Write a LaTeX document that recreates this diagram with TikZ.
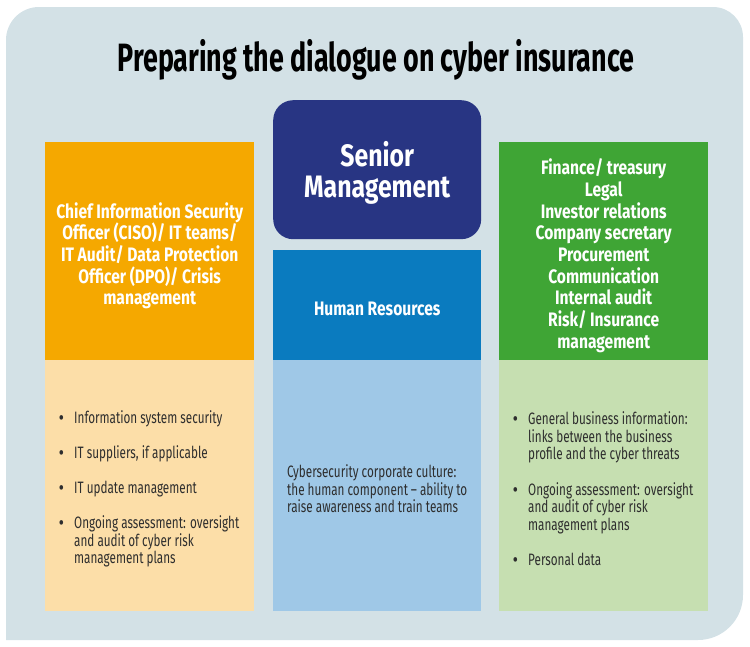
\documentclass[tikz,border=0pt]{standalone}
\usepackage{fontspec}
\setmainfont{Fira Sans}[FakeStretch=0.71,BoldFeatures={FakeStretch=0.8}]
\newfontfamily\titlefont{Fira Sans}[FakeStretch=0.68]
\usepackage{xcolor}
\usetikzlibrary{positioning}
\definecolor{bggrey}{HTML}{D3E1E6}
\definecolor{orng}{HTML}{F5A800}
\definecolor{orngl}{HTML}{FCDEA8}
\definecolor{navy}{HTML}{283583}
\definecolor{hrblue}{HTML}{0A7BBF}
\definecolor{hrbluel}{HTML}{9FC8E7}
\definecolor{grn}{HTML}{3FA535}
\definecolor{grnl}{HTML}{C6DFB1}
\definecolor{ink}{HTML}{2E2E2E}
\newcommand{\bul}[1]{\hangindent=17pt\hangafter=1\noindent\makebox[17pt][l]{\hspace{2pt}\textbf{\textbullet}}#1\par}
\tikzset{
  panel/.style={fill=#1,inner sep=0pt,anchor=north west,minimum width=209pt},
  headtext/.style={text=white,align=center,inner sep=0pt,font=\bfseries\fontsize{19.5}{21.7}\selectfont},
  detailtext/.style={text=ink,align=flush left,inner xsep=12pt,inner ysep=0pt,text width=185pt,font=\fontsize{16.5}{17.6}\selectfont},
}
\begin{document}
\begin{tikzpicture}[x=1pt,y=-1pt]
\useasboundingbox (0,0) rectangle (750,646);
\fill[bggrey] (6,640) -- (6,100) [rounded corners=33pt] -- (6,7) -- (300,7) [sharp corners] -- (400,7) [rounded corners=30pt] -- (743,7) -- (743,300) [sharp corners] -- (743,400) [rounded corners=45pt] -- (743,640) -- (600,640) [sharp corners] -- cycle;
\node[font=\titlefont\bfseries\fontsize{39.5}{40}\selectfont,text=black] (title) at (376,60) {Preparing the dialogue on cyber insurance};
% top row
\node[panel=orng,minimum height=218pt] (ciso) at (45,142) {};
\node[panel=navy,minimum width=208pt,minimum height=139pt,rounded corners=20pt] (senior) at (273,100) {};
\node[panel=hrblue,minimum width=208pt,minimum height=110pt] (hr) at (273,250) {};
\node[panel=grn,minimum height=218pt] (fin) at (499,142) {};
\node[headtext] (cisolbl) at ([yshift=-4.5pt]ciso.center) {Chief Information Security\\Officer (CISO)/ IT teams/\\IT Audit/ Data Protection\\Officer (DPO)/ Crisis\\management};
\node[headtext,font=\bfseries\fontsize{31}{31}\selectfont] (seniorlbl) at ([yshift=-3pt]senior.center) {Senior\\Management};
\node[headtext] (hrlbl) at ([yshift=-4pt]hr.center) {Human Resources};
\node[headtext] (finlbl) at ([yshift=-4.5pt]fin.center) {Finance/ treasury\\Legal\\Investor relations\\Company secretary\\Procurement\\Communication\\Internal audit\\Risk/ Insurance\\management};
% bottom row
\node[panel=orngl,minimum height=251pt] (cisoinfo) at (45,360) {};
\node[panel=hrbluel,minimum width=208pt,minimum height=251pt] (hrinfo) at (273,360) {};
\node[panel=grnl,minimum height=251pt] (fininfo) at (499,360) {};
\node[detailtext] (cisotxt) at ([yshift=-3pt]cisoinfo.center) {\setlength{\parskip}{17.5pt}%
  \bul{Information system security}
  \bul{IT suppliers, if applicable}
  \bul{IT update management}
  \bul{Ongoing assessment: oversight\newline and audit of cyber risk\newline management plans}};
\node[detailtext,inner xsep=14pt,text width=180pt] (hrtxt) at ([yshift=-3pt]hrinfo.center) {Cybersecurity corporate culture:\\the human component -- ability to\\raise awareness and train teams};
\node[detailtext] (fintxt) at ([yshift=-3pt]fininfo.center) {\setlength{\parskip}{17.5pt}%
  \bul{General business information:\newline links between the business\newline profile and the cyber threats}
  \bul{Ongoing assessment: oversight\newline and audit of cyber risk\newline management plans}
  \bul{Personal data}};
\end{tikzpicture}
\end{document}
